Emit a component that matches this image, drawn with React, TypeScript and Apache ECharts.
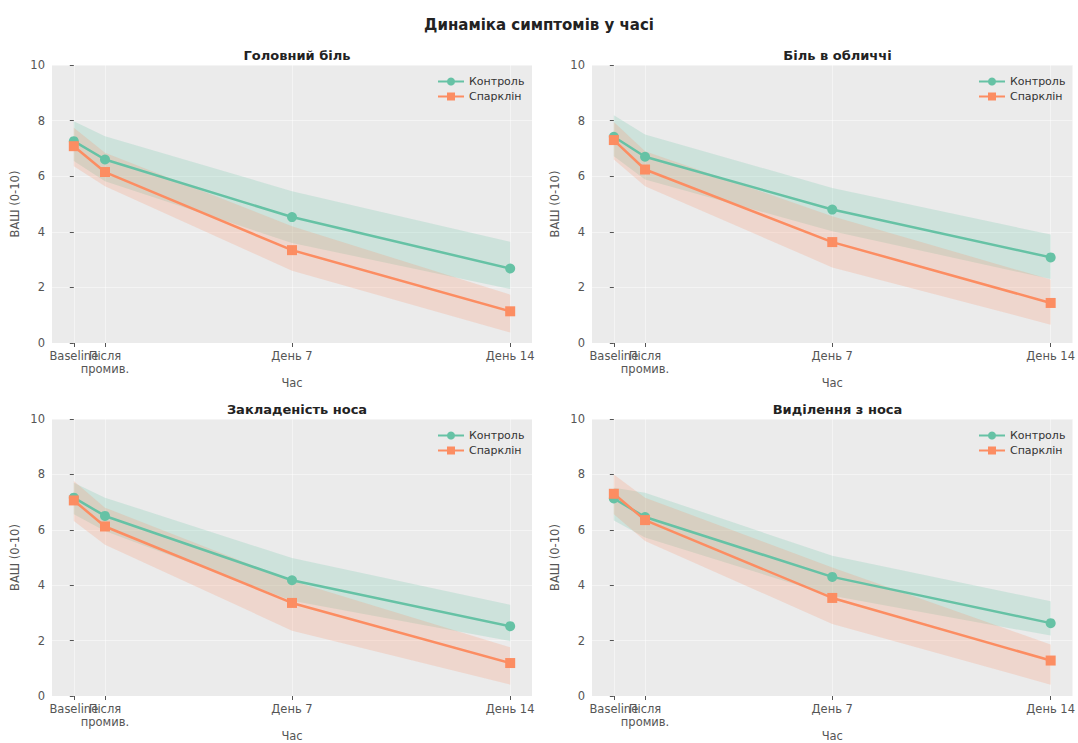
import React, { useEffect, useRef } from "react";
import * as echarts from "echarts";

const timeDays = [0, 1, 7, 14];
const timeLabels = ["Baseline", "Після\nпромив.", "День 7", "День 14"];
const panelTitles = ["Головний біль", "Біль в обличчі", "Закладеність носа", "Виділення з носа"];
const seriesNames = ["Контроль", "Спарклін"];

// Головний біль
const headacheControl = [7.26, 6.6, 4.53, 2.68];
const headacheControlLow = [6.55, 5.82, 3.6, 1.94];
const headacheControlHigh = [7.98, 7.44, 5.46, 3.64];
const headacheSpark = [7.08, 6.15, 3.34, 1.14];
const headacheSparkLow = [6.36, 5.64, 2.6, 0.38];
const headacheSparkHigh = [7.74, 6.84, 4.2, 1.74];

// Біль в обличчі
const facialControl = [7.42, 6.7, 4.8, 3.08];
const facialControlLow = [6.72, 5.88, 4.02, 2.3];
const facialControlHigh = [8.19, 7.5, 5.58, 3.9];
const facialSpark = [7.3, 6.24, 3.63, 1.44];
const facialSparkLow = [6.6, 5.64, 2.72, 0.66];
const facialSparkHigh = [7.95, 6.9, 4.56, 2.28];

// Закладеність носа
const congestionControl = [7.16, 6.5, 4.18, 2.52];
const congestionControlLow = [6.56, 5.96, 3.44, 1.98];
const congestionControlHigh = [7.7, 7.16, 4.98, 3.29];
const congestionSpark = [7.06, 6.12, 3.36, 1.19];
const congestionSparkLow = [6.32, 5.46, 2.36, 0.41];
const congestionSparkHigh = [7.76, 6.8, 4.16, 1.76];

// Виділення з носа
const dischargeControl = [7.13, 6.46, 4.3, 2.63];
const dischargeControlLow = [6.34, 5.72, 3.62, 2.18];
const dischargeControlHigh = [7.52, 7.34, 5.06, 3.42];
const dischargeSpark = [7.3, 6.35, 3.54, 1.28];
const dischargeSparkLow = [6.56, 5.6, 2.6, 0.41];
const dischargeSparkHigh = [8.0, 7.16, 4.64, 1.86];

const panels = [
  { control: [headacheControl, headacheControlLow, headacheControlHigh], spark: [headacheSpark, headacheSparkLow, headacheSparkHigh] },
  { control: [facialControl, facialControlLow, facialControlHigh], spark: [facialSpark, facialSparkLow, facialSparkHigh] },
  { control: [congestionControl, congestionControlLow, congestionControlHigh], spark: [congestionSpark, congestionSparkLow, congestionSparkHigh] },
  { control: [dischargeControl, dischargeControlLow, dischargeControlHigh], spark: [dischargeSpark, dischargeSparkLow, dischargeSparkHigh] },
];

const COLORS = ["#66c2a5", "#fc8d62"];
const FONT = "DejaVu Sans";

const gridBoxes = [
  { left: 52, top: 65, width: 480, height: 278 },
  { left: 592, top: 65, width: 481, height: 278 },
  { left: 52, top: 419, width: 480, height: 278 },
  { left: 592, top: 419, width: 481, height: 278 },
];

// ticks split into two interleaved sets so that close labels are both drawn
const tickSetA = [timeDays[0], timeDays[2], timeDays[3]];
const tickSetB = [timeDays[1]];

export default function App() {
  const ref = useRef<HTMLDivElement>(null);
  useEffect(() => {
    if (!ref.current) return;
    const chart = echarts.init(ref.current, null, { renderer: "svg" });
    const grids: any[] = [];
    const xAxes: any[] = [];
    const yAxes: any[] = [];
    const series: any[] = [];
    const legends: any[] = [];
    const titles: any[] = [
      {
        text: "Динаміка симптомів у часі",
        left: "center",
        top: 12,
        textStyle: { fontFamily: FONT, fontSize: 15, fontWeight: "bold", color: "#222" },
      },
    ];

    const labelFormatter = (v: number) => {
      const idx = timeDays.indexOf(v);
      return idx >= 0 ? timeLabels[idx] : "";
    };

    panels.forEach((p, i) => {
      const g = gridBoxes[i];
      grids.push({ ...g, show: true, backgroundColor: "#ebebeb", borderWidth: 0 });
      titles.push({
        text: panelTitles[i],
        left: g.left + g.width / 2,
        top: g.top - 21,
        textAlign: "center",
        textStyle: { fontFamily: FONT, fontSize: 13, fontWeight: "bold", color: "#222" },
      });
      const mainX = xAxes.length;
      [tickSetA, tickSetB].forEach((vals, s) => {
        xAxes.push({
          type: "value",
          gridIndex: i,
          position: "bottom",
          min: -0.7,
          max: 14.7,
          name: s === 0 ? "Час" : "",
          nameLocation: "middle",
          nameGap: 34,
          nameTextStyle: { fontFamily: FONT, fontSize: 11.5, color: "#555" },
          axisLine: { show: false },
          axisTick: { show: true, length: 4, customValues: vals, lineStyle: { color: "#555" } },
          axisLabel: {
            customValues: vals,
            showMinLabel: true,
            showMaxLabel: true,
            hideOverlap: false,
            margin: 6,
            fontFamily: FONT,
            fontSize: 11.5,
            color: "#555",
            lineHeight: 13,
            formatter: labelFormatter,
          },
          splitLine: { show: true, lineStyle: { color: "rgba(255,255,255,0.45)", width: 1 } },
        });
      });
      yAxes.push({
        type: "value",
        gridIndex: i,
        min: 0,
        max: 10,
        interval: 2,
        name: "ВАШ (0-10)",
        nameLocation: "middle",
        nameGap: 31,
        nameTextStyle: { fontFamily: FONT, fontSize: 11.5, color: "#555" },
        axisLine: { show: false },
        axisTick: { show: true, length: 4, lineStyle: { color: "#555" } },
        axisLabel: { margin: 7, fontFamily: FONT, fontSize: 11.5, color: "#555" },
        splitLine: { show: true, lineStyle: { color: "rgba(255,255,255,0.45)", width: 1 } },
      });

      const groups = [p.control, p.spark];
      groups.forEach((grp, k) => {
        const [, lo, hi] = grp;
        series.push({
          type: "custom",
          name: `band-${i}-${k}`,
          xAxisIndex: mainX,
          yAxisIndex: i,
          silent: true,
          clip: true,
          z: 1,
          data: timeDays.map((d, j) => [d, lo[j], hi[j]]),
          encode: { x: 0, y: [1, 2] },
          renderItem: (params: any, api: any) => {
            if (params.dataIndex !== 0) return null;
            const upper = timeDays.map((d, j) => api.coord([d, hi[j]]));
            const lower = timeDays.map((d, j) => api.coord([d, lo[j]])).reverse();
            return {
              type: "polygon",
              shape: { points: upper.concat(lower) },
              style: { fill: COLORS[k], opacity: 0.22 },
            };
          },
        });
      });
      groups.forEach((grp, k) => {
        const [mean] = grp;
        series.push({
          type: "line",
          name: seriesNames[k],
          xAxisIndex: mainX,
          yAxisIndex: i,
          z: 3,
          data: timeDays.map((d, j) => [d, mean[j]]),
          symbol: k === 0 ? "circle" : "rect",
          symbolSize: 10,
          showSymbol: true,
          lineStyle: { color: COLORS[k], width: 2.5 },
          itemStyle: { color: COLORS[k] },
        });
      });
      legends.push({
        data: seriesNames,
        orient: "vertical",
        left: g.left + g.width - 100,
        top: g.top + 6,
        itemGap: 4,
        itemWidth: 26,
        itemHeight: 10,
        textStyle: { fontFamily: FONT, fontSize: 11, color: "#333" },
        selectedMode: false,
      });
    });

    chart.setOption({
      animation: false,
      backgroundColor: "#ffffff",
      title: titles,
      grid: grids,
      xAxis: xAxes,
      yAxis: yAxes,
      legend: legends,
      series,
    });
    return () => chart.dispose();
  }, []);
  return (
    <div
      ref={ref}
      style={{ position: "absolute", left: 0, top: 0, width: 1078, height: 743 }}
    />
  );
}
